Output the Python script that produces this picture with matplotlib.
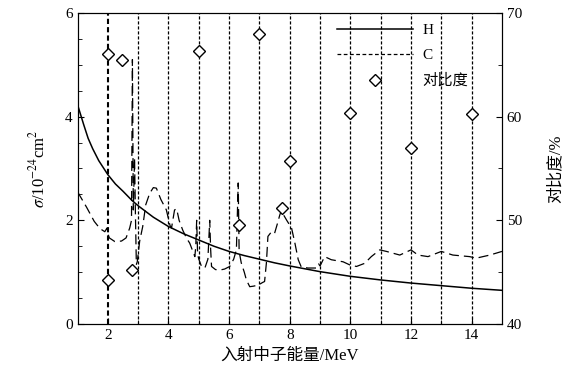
import numpy as np
from matplotlib import pyplot as plt
from matplotlib.lines import Line2D
from matplotlib.ticker import MultipleLocator

plt.rcParams['font.family'] = ['Liberation Serif', 'Noto Sans CJK SC']
plt.rcParams['mathtext.fontset'] = 'stix'

# H elastic cross section (barn)
H_E = [1.0, 1.2, 1.35, 1.5, 1.7, 2.0, 2.25, 2.5, 2.8, 3.0, 3.5, 4.0, 4.5, 5.0, 5.5, 6.0, 6.5,
       7.0, 7.5, 8.0, 9.0, 10.0, 11.0, 12.0, 13.0, 14.0, 15.0]
H_SIGMA = [4.23, 3.85, 3.58, 3.38, 3.15, 2.88, 2.7, 2.56, 2.38, 2.28, 2.06, 1.88, 1.74, 1.62,
           1.5, 1.4, 1.32, 1.25, 1.18, 1.12, 1.01, 0.92, 0.85, 0.79, 0.74, 0.69, 0.65]

# C cross section (barn)
C_E = [1.0, 1.3, 1.55, 1.74, 1.9, 1.97, 2.0, 2.05, 2.23, 2.45, 2.6, 2.72, 2.78, 2.81, 2.84,
       2.88, 2.91, 2.94, 2.97, 3.05, 3.15, 3.25, 3.38, 3.5, 3.6, 3.75, 3.93, 4.05, 4.1, 4.2,
       4.27, 4.35, 4.47, 4.6, 4.7, 4.87, 4.9, 4.93, 4.96, 5.0, 5.09, 5.2, 5.3, 5.36, 5.39,
       5.42, 5.55, 5.69, 5.85, 6.02, 6.15, 6.24, 6.3, 6.33, 6.4, 6.5, 6.57, 6.68, 6.8, 6.96,
       7.1, 7.17, 7.23, 7.28, 7.4, 7.5, 7.6, 7.67, 7.73, 7.8, 7.9, 8.06, 8.17, 8.28, 8.38,
       8.6, 8.88, 8.95, 9.0, 9.15, 9.37, 9.76, 9.98, 10.2, 10.47, 10.69, 10.97, 11.19, 11.63,
       12.0, 12.23, 12.56, 13.0, 13.38, 13.93, 14.15, 14.6, 15.0]
C_SIGMA = [2.55, 2.25, 1.98, 1.84, 1.78, 1.85, 1.74, 1.66, 1.59, 1.6, 1.66, 1.85, 2.0, 5.1, 2.2,
           3.2, 2.1, 1.15, 1.2, 1.6, 1.88, 2.3, 2.52, 2.63, 2.62, 2.4, 2.2, 1.9, 1.85, 2.2,
           2.22, 2.0, 1.81, 1.65, 1.56, 1.3, 1.5, 2.0, 1.35, 1.25, 1.11, 1.08, 1.25, 2.0, 1.45,
           1.11, 1.05, 1.04, 1.06, 1.11, 1.25, 1.43, 2.72, 1.4, 1.18, 1.0, 0.85, 0.72, 0.73, 0.75,
           0.8, 0.82, 1.18, 1.69, 1.78, 1.75, 1.95, 2.1, 2.2, 2.1, 2.0, 1.85, 1.56, 1.24, 1.1,
           1.08, 1.08, 1.16, 1.12, 1.3, 1.24, 1.2, 1.14, 1.11, 1.17, 1.3, 1.43, 1.4, 1.33,
           1.43, 1.33, 1.3, 1.4, 1.33, 1.3, 1.27, 1.33, 1.4]

# contrast (%)
CON_E = [2.0, 2.0, 2.48, 2.8, 5.0, 6.32, 7.0, 7.76, 8.0, 10.0, 12.0, 14.0]
CON_VAL = [66.0, 44.2, 65.5, 45.2, 66.3, 49.5, 68.0, 51.2, 55.7, 60.3, 57.0, 60.2]

# selected energies
V_LINES = [2, 3, 4, 5, 6, 7, 8, 9, 10, 11, 12, 13, 14]

fig = plt.figure(figsize=(5.83, 3.89), dpi=100)
ax = fig.add_axes([0.133, 0.167, 0.728, 0.8])

for v in V_LINES:
    lw = 1.5 if v == 2 else 0.9
    ax.axvline(v, color='k', ls=(0, (2.5, 1.5)), lw=lw, zorder=1)

ax.plot(H_E, H_SIGMA, 'k-', lw=1.1, zorder=3)
ax.plot(C_E, C_SIGMA, color='k', ls=(0, (8, 4)), lw=0.9, zorder=3)

ax.set_xlim(1, 15)
ax.set_ylim(0, 6)
ax.xaxis.set_major_locator(MultipleLocator(2))
ax.xaxis.set_minor_locator(MultipleLocator(1))
ax.yaxis.set_major_locator(MultipleLocator(2))
ax.yaxis.set_minor_locator(MultipleLocator(0.5))
ax.tick_params(which='both', direction='in', labelsize=11)
ax.tick_params(which='major', length=4)
ax.tick_params(which='minor', length=3)
ax.set_xlabel('入射中子能量/MeV', fontsize=12)
ax.set_ylabel(r'$\sigma$/10$^{-24}$cm$^2$', fontsize=12, labelpad=12)

ax2 = ax.twinx()
ax2.plot(CON_E, CON_VAL, 'D', ms=6.5, mfc='white', mec='k', mew=1.0, ls='none', zorder=4)
ax2.set_ylim(40, 70)
ax2.yaxis.set_major_locator(MultipleLocator(10))
ax2.yaxis.set_minor_locator(MultipleLocator(5))
ax2.tick_params(which='both', direction='in', labelsize=11)
ax2.tick_params(which='major', length=4)
ax2.tick_params(which='minor', length=3)
ax2.set_ylabel('对比度/%', fontsize=12, labelpad=18)

handles = [
    Line2D([], [], color='k', ls='-', lw=1.1),
    Line2D([], [], color='k', ls=(0, (3, 2)), lw=0.9),
    Line2D([], [], color='k', marker='D', ms=6.5, mfc='white', mec='k', ls='none'),
]
ax2.legend(handles, ['H', 'C', '对比度'], loc='upper left', frameon=False,
           fontsize=11, handlelength=5.0, bbox_to_anchor=(0.585, 1.0), borderaxespad=0.3,
           labelspacing=0.75, handletextpad=0.6)

fig.savefig('out.png', dpi=100)
